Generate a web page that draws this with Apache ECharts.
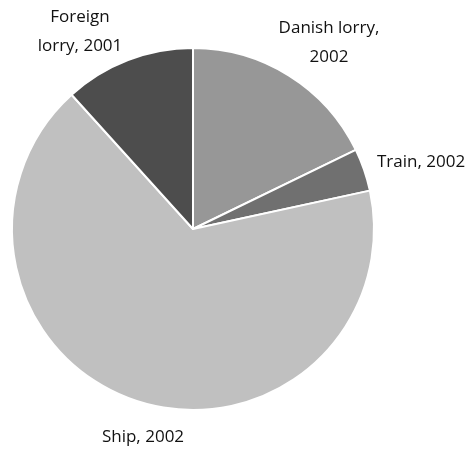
<!DOCTYPE html>
<html>
<head>
<meta charset="utf-8">
<script src="https://cdn.jsdelivr.net/npm/echarts@6/dist/echarts.min.js"></script>
<style>
  html, body { margin: 0; padding: 0; background: #fff; }
  #chart { width: 469px; height: 452px; }
</style>
</head>
<body>
<div id="chart"></div>
<script>
// ---- data (clockwise from 12 o'clock) ----
var categories = ["Danish lorry,\n2002", "Train, 2002", "Ship, 2002", "Foreign\nlorry, 2001"];
var shares     = [17.8, 3.8, 66.7, 11.7];
var colors     = ["#979797", "#707070", "#c0c0c0", "#4d4d4d"];

// label anchor points (px) — labels sit free, no leader lines
var labelPos = [
  { x: 329, y: 43, align: "center" },
  { x: 377, y: 162, align: "left" },
  { x: 143, y: 437, align: "center" },
  { x: 80,  y: 32, align: "center" }
];

var chart = echarts.init(document.getElementById("chart"));

chart.setOption({
  animation: false,
  series: [{
    type: "pie",
    center: [193, 229],
    radius: 181,
    startAngle: 90,
    clockwise: true,
    itemStyle: { borderColor: "#fff", borderWidth: 2 },
    label: {
      show: true,
      color: "#111",
      fontFamily: "Open Sans",
      fontSize: 17,
      lineHeight: 29,
      overflow: "none",
      formatter: "{b}"
    },
    labelLine: { show: false },
    labelLayout: function (p) {
      var q = labelPos[p.dataIndex];
      return { x: q.x, y: q.y, align: q.align, verticalAlign: "middle" };
    },
    emphasis: { disabled: true },
    data: categories.map(function (c, i) {
      return { name: c, value: shares[i], itemStyle: { color: colors[i] } };
    })
  }]
});
</script>
</body>
</html>
